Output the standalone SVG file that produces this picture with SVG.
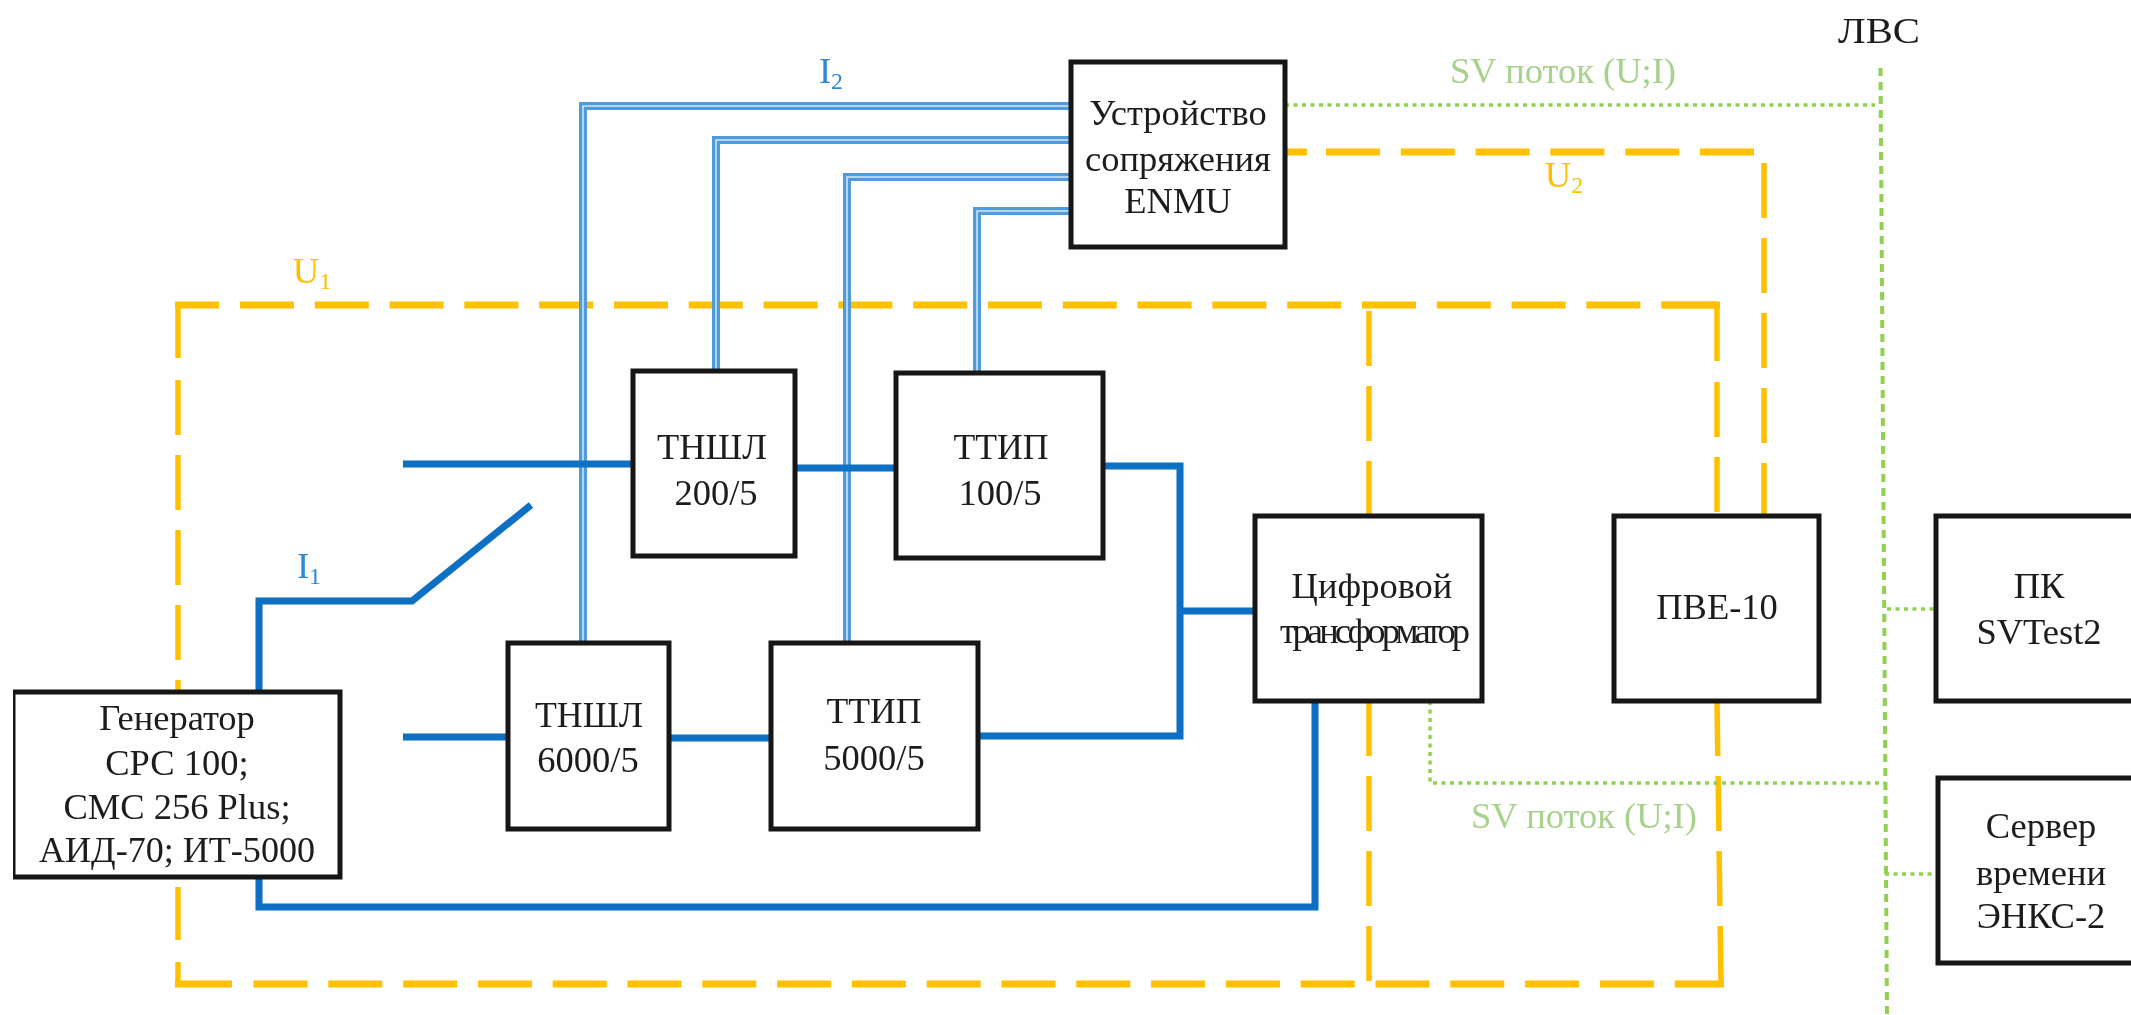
<svg xmlns="http://www.w3.org/2000/svg" width="2131" height="1015" viewBox="0 0 2131 1015">
<style>
text{font-family:"Liberation Serif","Times New Roman",serif;font-size:36.500px;fill:#1c1c1c;text-anchor:middle}
.box{fill:#fefefe;stroke:#141414;stroke-width:5}
.b{fill:none;stroke:#0b6fc2;stroke-width:7;stroke-linejoin:miter}
.d{fill:none;stroke:#4f9bdb;stroke-width:8}
.dc{fill:none;stroke:#d5e7f6;stroke-width:1.500}
.o{fill:none;stroke:#ffc000;stroke-width:7}
.v{stroke-width:5.500}
.oh{stroke-dasharray:54 20.800}
.ov{stroke-dasharray:55 20}
.g{fill:none;stroke:#92d050;stroke-width:3.500;stroke-dasharray:4 4.500}
.gv{fill:none;stroke:#92d050;stroke-width:4;stroke-dasharray:8 6}
.tg{fill:#a9d18e}.to{fill:#ffc000}.tb{fill:#2f88d2}
.sub{font-size:24px}
</style>
<defs>
<path id="w1" d="M1071 106H583V643"/>
<path id="w2" d="M1071 140H716V371"/>
<path id="w3" d="M1071 177H847V643"/>
<path id="w4" d="M1071 211H977V373"/>
<filter id="soft" x="0" y="0" width="100%" height="100%"><feGaussianBlur stdDeviation="0.600"/></filter>
</defs>
<rect width="2131" height="1015" fill="#fdfefd"/>
<g filter="url(#soft)">
<g id="connectors">
<g id="voltage">
<path class="o v" d="M178 358V305"/>
<path class="o" d="M175 305H219"/>
<path class="o ov v" d="M178 380V692"/>
<path class="o oh" d="M240 305H1717"/>
<path class="o" d="M1663 305H1720"/>
<path class="o v" d="M1717 305V361"/>
<path class="o ov v" d="M1717 382V516"/>
<path class="o ov v" d="M1369 311V516"/>
<path class="o ov v" d="M1369 701V982"/>
<path class="o ov v" d="M1717 701L1721 984"/>
<path class="o v" d="M178 887V940"/>
<path class="o v" d="M178 962V984"/>
<path class="o" d="M175 984H232"/>
<path class="o oh" d="M253.500 984H1724"/>
<path class="o oh" d="M1285 152H1307"/>
<path class="o oh" d="M1326 152H1756"/>
<path class="o v" d="M1764 163V218"/>
<path class="o ov v" d="M1764 238V516"/>
</g>
<g id="sensors">
<use href="#w1" class="d"/><use href="#w2" class="d"/><use href="#w3" class="d"/><use href="#w4" class="d"/>
<use href="#w1" class="dc"/><use href="#w2" class="dc"/><use href="#w3" class="dc"/><use href="#w4" class="dc"/>
</g>
<g id="primary">
<path class="b" d="M403 464H633"/>
<path class="b" d="M795 468H896"/>
<path class="b" d="M1103 466H1180V736H978"/>
<path class="b" d="M1180 611H1255"/>
<path class="b" d="M403 737H508"/>
<path class="b" d="M669 738H771"/>
<path class="b" d="M259 692V601H412L531 505"/>
<path class="b" d="M259 877V907H1315V701"/>
</g>
<g id="network">
<path class="gv" d="M1880.500 68L1887 1015"/>
<path class="g" d="M1285 105H1875"/>
<path class="g" d="M1430 701V783H1885"/>
<path class="g" d="M1887 609H1936"/>
<path class="g" d="M1885 874H1938"/>
</g>
</g>
<g id="enmu"><rect class="box" x="1071" y="62" width="214" height="185"/>
<text x="1178" y="125">Устройство</text><text x="1178" y="171">сопряжения</text><text x="1178" y="213">ENMU</text></g>
<g id="tnshl200"><rect class="box" x="633" y="371" width="162" height="185"/>
<text x="712" y="459" textLength="110" lengthAdjust="spacingAndGlyphs">ТНШЛ</text><text x="716" y="505">200/5</text></g>
<g id="ttip100"><rect class="box" x="896" y="373" width="207" height="185"/>
<text x="1001" y="459" textLength="95" lengthAdjust="spacingAndGlyphs">ТТИП</text><text x="1000" y="505">100/5</text></g>
<g id="tnshl6000"><rect class="box" x="508" y="643" width="161" height="186"/>
<text x="589" y="727" textLength="108" lengthAdjust="spacingAndGlyphs">ТНШЛ</text><text x="588" y="772">6000/5</text></g>
<g id="ttip5000"><rect class="box" x="771" y="643" width="207" height="186"/>
<text x="874" y="723" textLength="95" lengthAdjust="spacingAndGlyphs">ТТИП</text><text x="874" y="770">5000/5</text></g>
<g id="digital"><rect class="box" x="1255" y="516" width="227" height="185"/>
<text x="1372" y="598">Цифровой</text><text x="1375" y="643" textLength="190">трансформатор</text></g>
<g id="pve"><rect class="box" x="1614" y="516" width="205" height="185"/>
<text x="1717" y="619">ПВЕ-10</text></g>
<g id="pc"><rect class="box" x="1936" y="516" width="210" height="185"/>
<text x="2039" y="598">ПК</text><text x="2039" y="644">SVTest2</text></g>
<g id="server"><rect class="box" x="1938" y="778" width="210" height="185"/>
<text x="2041" y="838">Сервер</text><text x="2041" y="885">времени</text><text x="2041" y="928">ЭНКС-2</text></g>
<g id="generator"><rect class="box" x="13" y="692" width="327" height="185"/>
<text x="177" y="730">Генератор</text><text x="177" y="775">СРС 100;</text><text x="177" y="819">СМС 256 Plus;</text><text x="177" y="862" textLength="276" lengthAdjust="spacingAndGlyphs">АИД-70; ИТ-5000</text></g>
<g id="labels">
<text x="1879" y="43" textLength="82" lengthAdjust="spacingAndGlyphs">ЛВС</text>
<text class="tg" x="1563" y="83">SV поток (U;I)</text>
<text class="tg" x="1584" y="828">SV поток (U;I)</text>
<text class="to" x="1564" y="187">U<tspan class="sub" dy="6">2</tspan></text>
<text class="to" x="312" y="283">U<tspan class="sub" dy="6">1</tspan></text>
<text class="tb" x="831" y="83">I<tspan class="sub" dy="6">2</tspan></text>
<text class="tb" x="309" y="578">I<tspan class="sub" dy="6">1</tspan></text>
</g>
</g>
</svg>
